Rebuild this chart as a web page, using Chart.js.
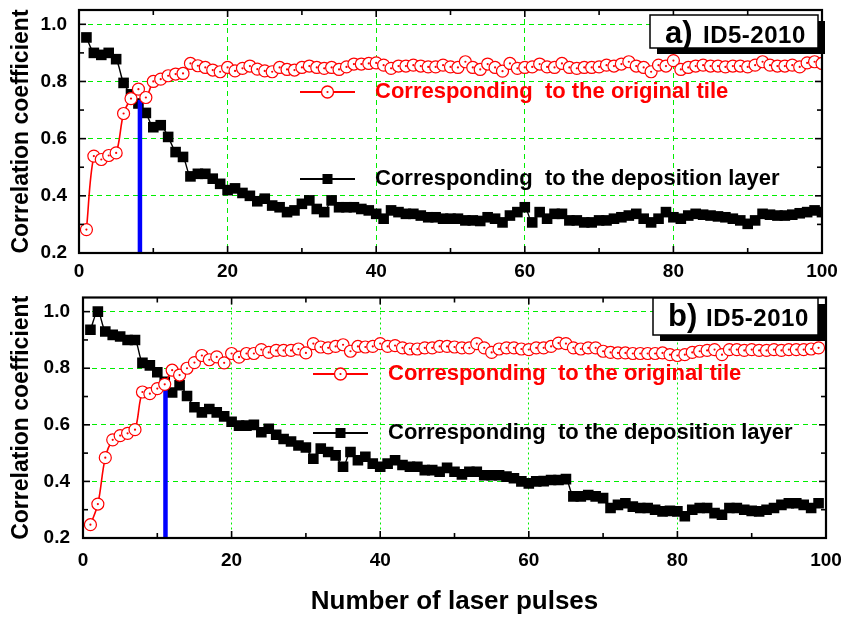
<!DOCTYPE html>
<html><head><meta charset="utf-8">
<script src="https://cdn.jsdelivr.net/npm/chart.js@4/dist/chart.umd.min.js"></script>
<style>
html,body{margin:0;padding:0;background:#fff;}
#wrap{position:relative;width:843px;height:617px;overflow:hidden;}
canvas{position:absolute;left:0;}
#c1{top:0;} #c2{top:290px;}
</style></head><body>
<div id="wrap"><canvas id="c1" width="843" height="290"></canvas><canvas id="c2" width="843" height="327"></canvas></div>
<script>
// ---------- data ----------
const pulsesA = [1,2,3,4,5,6,7,8,9,10,11,12,13,14,15,16,17,18,19,20,21,22,23,24,25,26,27,28,29,30,31,32,33,34,35,36,37,38,39,40,41,42,43,44,45,46,47,48,49,50,51,52,53,54,55,56,57,58,59,60,61,62,63,64,65,66,67,68,69,70,71,72,73,74,75,76,77,78,79,80,81,82,83,84,85,86,87,88,89,90,91,92,93,94,95,96,97,98,99,100];
const tileA = [0.282,0.539,0.527,0.541,0.550,0.688,0.740,0.773,0.744,0.800,0.808,0.820,0.826,0.828,0.863,0.855,0.849,0.840,0.834,0.849,0.837,0.846,0.854,0.843,0.837,0.834,0.849,0.842,0.840,0.849,0.854,0.849,0.846,0.849,0.842,0.851,0.861,0.861,0.863,0.865,0.857,0.846,0.854,0.854,0.857,0.854,0.851,0.851,0.857,0.851,0.849,0.869,0.849,0.842,0.861,0.849,0.836,0.863,0.846,0.849,0.851,0.861,0.851,0.849,0.863,0.849,0.846,0.849,0.849,0.851,0.857,0.854,0.861,0.869,0.854,0.849,0.834,0.857,0.854,0.873,0.842,0.849,0.854,0.857,0.854,0.854,0.851,0.854,0.854,0.851,0.857,0.869,0.857,0.854,0.854,0.857,0.851,0.865,0.869,0.863];
const layerA = [0.954,0.900,0.893,0.900,0.878,0.795,0.755,0.723,0.690,0.640,0.647,0.606,0.553,0.536,0.468,0.477,0.477,0.460,0.442,0.420,0.426,0.410,0.400,0.381,0.390,0.366,0.360,0.343,0.349,0.372,0.384,0.354,0.343,0.384,0.360,0.360,0.360,0.354,0.349,0.337,0.320,0.349,0.343,0.337,0.337,0.331,0.325,0.325,0.320,0.320,0.320,0.314,0.314,0.312,0.325,0.320,0.307,0.331,0.343,0.360,0.307,0.343,0.320,0.337,0.337,0.314,0.314,0.307,0.307,0.314,0.314,0.320,0.325,0.331,0.337,0.320,0.307,0.320,0.343,0.325,0.320,0.331,0.337,0.334,0.331,0.328,0.325,0.320,0.314,0.302,0.314,0.337,0.334,0.331,0.331,0.334,0.339,0.343,0.349,0.343];
const pulsesB = [1,2,3,4,5,6,7,8,9,10,11,12,13,14,15,16,17,18,19,20,21,22,23,24,25,26,27,28,29,30,31,32,33,34,35,36,37,38,39,40,41,42,43,44,45,46,47,48,49,50,51,52,53,54,55,56,57,58,59,60,61,62,63,64,65,66,67,68,69,70,71,72,73,74,75,76,77,78,79,80,81,82,83,84,85,86,87,88,89,90,91,92,93,94,95,96,97,98,99];
const tileB = [0.247,0.320,0.484,0.547,0.562,0.570,0.583,0.716,0.710,0.728,0.743,0.793,0.776,0.800,0.820,0.845,0.830,0.840,0.819,0.852,0.839,0.852,0.852,0.866,0.856,0.863,0.863,0.863,0.868,0.854,0.887,0.875,0.872,0.877,0.883,0.860,0.877,0.875,0.877,0.887,0.877,0.880,0.872,0.868,0.868,0.872,0.872,0.877,0.877,0.875,0.872,0.872,0.887,0.872,0.856,0.868,0.872,0.872,0.868,0.866,0.872,0.872,0.877,0.889,0.887,0.872,0.868,0.872,0.872,0.860,0.856,0.854,0.854,0.852,0.852,0.852,0.852,0.854,0.848,0.845,0.848,0.856,0.860,0.863,0.866,0.848,0.866,0.866,0.863,0.866,0.863,0.863,0.866,0.863,0.866,0.866,0.866,0.868,0.872];
const layerB = [0.936,1.000,0.930,0.918,0.912,0.900,0.900,0.819,0.810,0.786,0.752,0.714,0.740,0.702,0.662,0.644,0.656,0.644,0.630,0.611,0.597,0.597,0.600,0.574,0.586,0.565,0.550,0.541,0.527,0.520,0.480,0.516,0.504,0.492,0.452,0.504,0.475,0.487,0.463,0.452,0.463,0.475,0.458,0.452,0.452,0.440,0.440,0.434,0.448,0.434,0.425,0.434,0.434,0.422,0.422,0.422,0.417,0.411,0.400,0.393,0.400,0.401,0.405,0.405,0.408,0.347,0.347,0.352,0.347,0.341,0.306,0.317,0.323,0.311,0.306,0.306,0.300,0.294,0.296,0.294,0.277,0.300,0.306,0.306,0.288,0.282,0.306,0.306,0.300,0.296,0.294,0.300,0.306,0.317,0.323,0.323,0.317,0.306,0.323];
const markerA = [8.2, 0.735];   // blue marker: pulse, top value
const markerB = [11.1, 0.745];
const xTickVals = [0,20,40,60,80,100];
const yTickVals = [0.2,0.4,0.6,0.8,1.0];
const labelTile = 'Corresponding  to the original tile';
const labelLayer = 'Corresponding  to the deposition layer';
const panelTitlesA = ['a)', 'ID5-2010'];
const panelTitlesB = ['b)', 'ID5-2010'];
const yTitle = 'Correlation coefficient';
const xTitle = 'Number of laser pulses';

// ---------- styling ----------
const FONT = "'Liberation Sans', Arial, Helvetica, sans-serif";
const GREEN = '#00ee00';
const RED = '#ff0000';

function pts(xs, ys){ return xs.map((x,i)=>({x:x, y:ys[i]})); }

const decor = {
  id:'decor',
  afterDatasetsDraw(chart){
    const ctx = chart.ctx, a = chart.chartArea, xs = chart.scales.x, ys = chart.scales.y;
    const meta = chart.getDatasetMeta(0);
    ctx.save();
    ctx.beginPath(); ctx.rect(a.left, a.top, a.right-a.left, a.bottom-a.top); ctx.clip();
    ctx.fillStyle = RED;
    meta.data.forEach(p=>{ ctx.beginPath(); ctx.arc(p.x, p.y, 1.1, 0, Math.PI*2); ctx.fill(); });
    ctx.restore();
    ctx.save();
    ctx.strokeStyle = '#000'; ctx.lineWidth = 2.2;
    ctx.strokeRect(a.left, a.top, a.right-a.left, a.bottom-a.top);
    ctx.lineWidth = 1.6;
    const tick = (x1,y1,x2,y2)=>{ ctx.beginPath(); ctx.moveTo(x1,y1); ctx.lineTo(x2,y2); ctx.stroke(); };
    const xv = [], yv = [];
    xTickVals.forEach((v,i)=>{ xv.push([v,7]); if(i<xTickVals.length-1) xv.push([(v+xTickVals[i+1])/2,5]); });
    yTickVals.forEach((v,i)=>{ yv.push([v,7]); if(i<yTickVals.length-1) yv.push([(v+yTickVals[i+1])/2,5]); });
    xv.forEach(([v,l])=>{ const px = xs.getPixelForValue(v); tick(px,a.bottom,px,a.bottom-l); tick(px,a.top,px,a.top+l); });
    yv.forEach(([v,l])=>{ const py = ys.getPixelForValue(v); tick(a.left,py,a.left+l,py); tick(a.right,py,a.right-l,py); });
    ctx.restore();
  },
  afterDraw(chart){
    const o = chart.options.plugins.decor;
    const ctx = chart.ctx;
    ctx.save();
    o.legend.forEach(L=>{
      ctx.strokeStyle = L.color; ctx.lineWidth = 2;
      ctx.beginPath(); ctx.moveTo(L.x1, L.y); ctx.lineTo(L.x2, L.y); ctx.stroke();
      const cx = (L.x1+L.x2)/2;
      if (L.marker==='circle'){
        ctx.fillStyle='#fff'; ctx.lineWidth=1.3;
        ctx.beginPath(); ctx.arc(cx, L.y, 6, 0, Math.PI*2); ctx.fill(); ctx.stroke();
        ctx.fillStyle=L.color; ctx.beginPath(); ctx.arc(cx, L.y, 1.1, 0, Math.PI*2); ctx.fill();
      } else {
        ctx.fillStyle=L.color; ctx.fillRect(cx-5, L.y-5, 10, 10);
      }
      ctx.fillStyle = L.color; ctx.font = "bold 22px "+FONT; ctx.textBaseline='middle'; ctx.textAlign='left';
      ctx.fillText(L.text, L.tx, L.y);
    });
    const B = o.box;
    ctx.fillStyle='#000'; ctx.fillRect(B.x+7, B.y+6, B.w, B.h);
    ctx.fillStyle='#fff'; ctx.fillRect(B.x, B.y, B.w, B.h);
    ctx.strokeStyle='#000'; ctx.lineWidth=1.5; ctx.strokeRect(B.x, B.y, B.w, B.h);
    ctx.fillStyle='#000'; ctx.textBaseline='alphabetic'; ctx.textAlign='left';
    ctx.font = "bold 31px "+FONT; ctx.fillText(B.t[0], B.x+15, B.y+B.base);
    ctx.font = "bold 24px "+FONT; ctx.letterSpacing = '0.5px'; ctx.fillText(B.t[1], B.x+53, B.y+B.base);
    ctx.letterSpacing = '0px';
    ctx.restore();
  }
};

function makeChart(id, xs, tile, layer, marker, cfg){
  const tickFont = {family:FONT, size:19, weight:'bold'};
  return new Chart(document.getElementById(id), {
    type:'line',
    data:{ datasets:[
      { label:'tile', data:pts(xs, tile), borderColor:RED, borderWidth:1.6, tension:0.35,
        pointStyle:'circle', pointRadius:6, pointBorderWidth:1.2, pointBorderColor:RED, pointBackgroundColor:'#fff', order:0 },
      { label:'marker', data:[{x:marker[0], y:0.2},{x:marker[0], y:marker[1]}], borderColor:'#0000ff', borderWidth:4.5,
        pointRadius:0, tension:0, order:1 },
      { label:'layer', data:pts(xs, layer), borderColor:'#000', borderWidth:1.4, tension:0.35,
        pointStyle:'rect', pointRadius:7.5, pointBorderWidth:0, pointBackgroundColor:'#000', order:2 }
    ]},
    options:{
      responsive:false, animation:false, devicePixelRatio:1,
      layout:{ padding:{ top:cfg.top, right:cfg.right, left:0, bottom:0 } },
      plugins:{ legend:{display:false}, tooltip:{enabled:false}, decor:cfg.decor },
      scales:{
        x:{ type:'linear', min:0, max:100,
          afterBuildTicks:s=>{ s.ticks = xTickVals.map(v=>({value:v})); },
          afterFit:s=>{ s.height = cfg.xH; s.paddingLeft = 0; s.paddingRight = 0; },
          grid:{ color:GREEN, lineWidth:1, drawTicks:false },
          border:{ display:false, dash:cfg.xDash },
          ticks:{ font:tickFont, color:'#000', padding:cfg.xPad, maxRotation:0, autoSkip:false },
          title:{ display:cfg.showXTitle, text:xTitle, color:'#000', font:{family:FONT, size:26, weight:'bold'}, padding:{top:0,bottom:0} }
        },
        y:{ type:'linear', min:0.2, max:1.05,
          afterBuildTicks:s=>{ s.ticks = yTickVals.map(v=>({value:v})); },
          afterFit:s=>{ s.width = cfg.yW; s.paddingTop = 0; s.paddingBottom = 0; },
          grid:{ color:GREEN, lineWidth:1, drawTicks:false },
          border:{ display:false, dash:[5,4] },
          ticks:{ font:tickFont, color:'#000', padding:cfg.yPad, callback:v=>Number(v).toFixed(1) },
          title:{ display:true, text:yTitle, color:'#000', font:{family:FONT, size:23, weight:'bold'}, padding:{top:8,bottom:0} }
        }
      }
    },
    plugins:[decor]
  });
}

makeChart('c1', pulsesA, tileA, layerA, markerA, {
  top:10, right:21, xH:37, yW:79, xPad:7, yPad:12, xDash:[5,4], showXTitle:false,
  decor:{
    legend:[
      {x1:300, x2:355, y:92, color:RED, marker:'circle', text:labelTile, tx:375},
      {x1:300, x2:355, y:179, color:'#000', marker:'rect', text:labelLayer, tx:375}
    ],
    box:{x:650, y:15, w:168, h:33, base:28, t:panelTitlesA}
  }
});
makeChart('c2', pulsesB, tileB, layerB, markerB, {
  top:6, right:17, xH:79, yW:83, xPad:11, yPad:13, xDash:[2,3], showXTitle:true,
  decor:{
    legend:[
      {x1:313, x2:368, y:84, color:RED, marker:'circle', text:labelTile, tx:388},
      {x1:313, x2:368, y:143, color:'#000', marker:'rect', text:labelLayer, tx:388}
    ],
    box:{x:653, y:8, w:165, h:37, base:28, t:panelTitlesB}
  }
});
</script></body></html>
